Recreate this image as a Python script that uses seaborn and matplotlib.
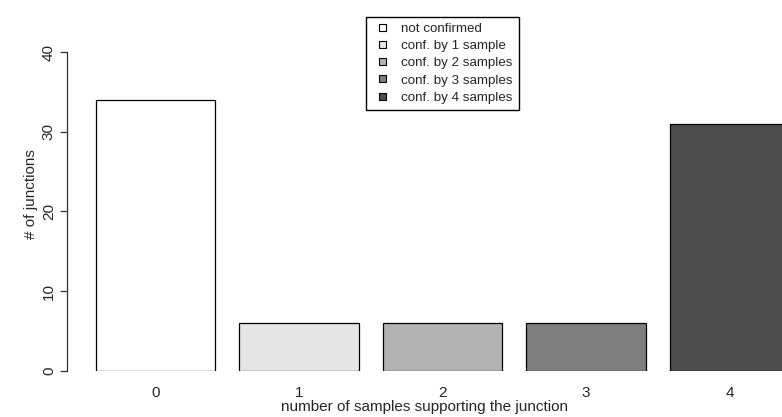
import matplotlib
matplotlib.use("Agg")
import matplotlib.pyplot as plt
from matplotlib.patches import Patch, Rectangle
from matplotlib.legend_handler import HandlerPatch
import pandas as pd
import seaborn as sns

# values
n_samples = ["0", "1", "2", "3", "4"]
junctions = [34, 6, 6, 6, 31]
legend_labels = ["not confirmed", "conf. by 1 sample", "conf. by 2 samples",
                 "conf. by 3 samples", "conf. by 4 samples"]
bar_colors = ["#FFFFFF", "#E6E6E6", "#B3B3B3", "#7F7F7F", "#4D4D4D"]

sns.set_style("white")
plt.rcParams["font.family"] = ["Liberation Sans", "DejaVu Sans"]

df = pd.DataFrame({"samples": n_samples, "junctions": junctions})

W, H = 782, 417
fig = plt.figure(figsize=(W / 100, H / 100), dpi=100)
left, bottom, top = 67, 370.6, 17
ax = fig.add_axes([left / W, 1 - bottom / H, 1 - left / W, (bottom - top) / H])

sns.barplot(data=df, x="samples", y="junctions", hue="samples", order=n_samples,
            palette=bar_colors, legend=False, width=1 / 1.2,
            edgecolor="black", linewidth=0.9, saturation=1, ax=ax)

ax.set_xlim(-0.6167, -0.6167 + (W - left) / 143.5)
ax.set_ylim(0, (bottom - top) / 7.96)

for side in ["top", "right", "bottom"]:
    ax.spines[side].set_visible(False)
ax.spines["left"].set_bounds(0, 40)
ax.spines["left"].set_color("#333333")
ax.spines["left"].set_linewidth(0.9)

ax.set_yticks([0, 10, 20, 30, 40])
ax.tick_params(axis="y", length=5, width=0.9, color="#333333", pad=3,
               labelsize=11, labelrotation=90, left=True)
for lab in ax.get_yticklabels():
    lab.set_va("center")
ax.tick_params(axis="x", length=0, pad=11, labelsize=11)

ax.set_xlabel("number of samples supporting the junction", fontsize=11, labelpad=0)
ax.set_ylabel("# of junctions", fontsize=11, labelpad=3)


def small_square(legend, orig_handle, xdescent, ydescent, width, height, fontsize):
    s = 7 * 72 / 100
    return Rectangle((width / 2 - s / 2 - xdescent, height / 2 - s / 2 - ydescent), s, s)


handles = [Patch(facecolor=c, edgecolor="black", linewidth=0.8) for c in bar_colors]
fig.legend(handles, legend_labels, loc="upper left",
           bbox_to_anchor=(366 / W, 1 - 17 / H), fontsize=9.6,
           frameon=True, fancybox=False, edgecolor="black", framealpha=1,
           borderaxespad=0, handlelength=1.5, handleheight=0.6,
           handletextpad=0.68, labelspacing=0.39, borderpad=0.45,
           handler_map={Patch: HandlerPatch(patch_func=small_square)})

fig.savefig("out.png", dpi=100)
